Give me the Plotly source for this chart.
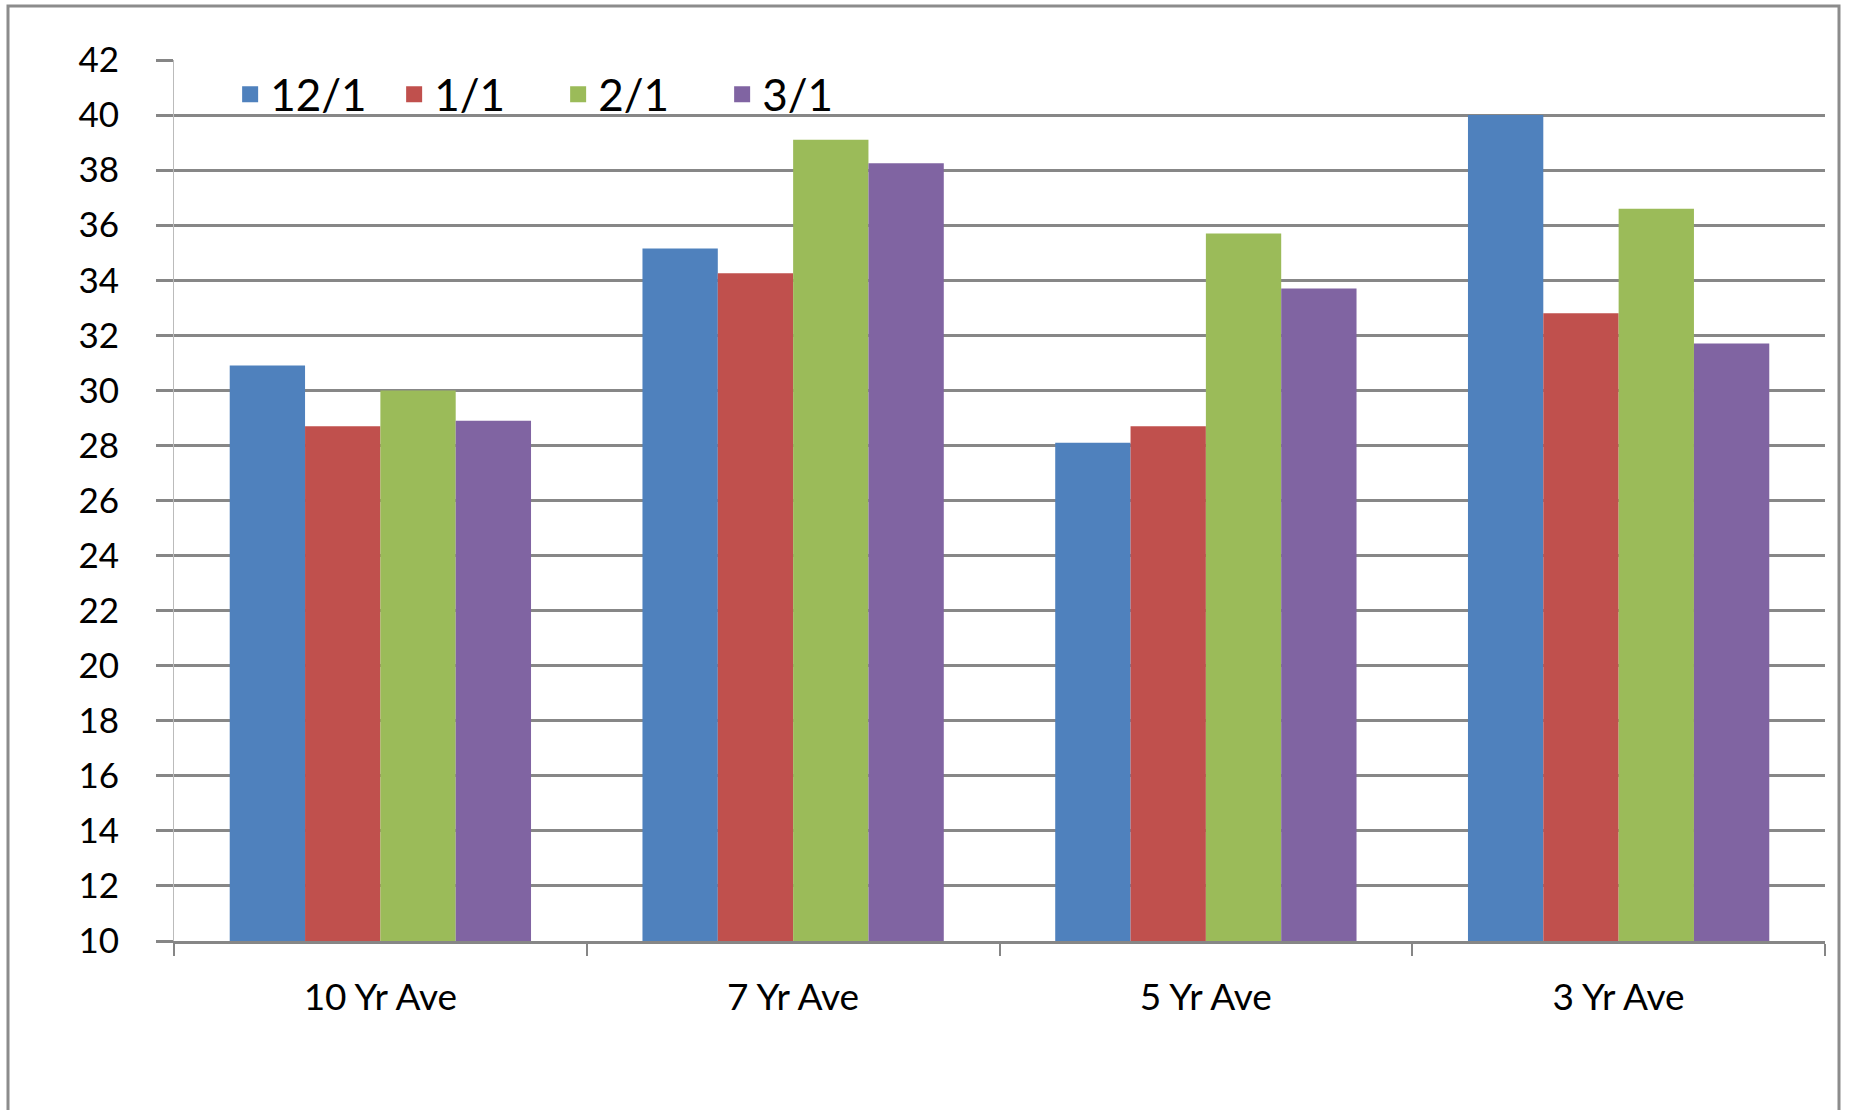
import plotly.graph_objects as go

categories = ["10 Yr Ave", "7 Yr Ave", "5 Yr Ave", "3 Yr Ave"]
series_names = ["12/1", "1/1", "2/1", "3/1"]
s_12_1 = [30.9, 35.15, 28.1, 40.0]
s_1_1 = [28.7, 34.25, 28.7, 32.8]
s_2_1 = [30.0, 39.1, 35.7, 36.6]
s_3_1 = [28.9, 38.25, 33.7, 31.7]
colors = ["#4F81BD", "#C0504D", "#9BBB59", "#8064A2"]
y_ticks = list(range(10, 43, 2))

fig = go.Figure()
for name, vals, col in zip(series_names, [s_12_1, s_1_1, s_2_1, s_3_1], colors):
    fig.add_trace(go.Bar(x=categories, y=vals, name=name, marker_color=col,
                         marker_line_width=0, legendgroup=name, showlegend=False))
# legend entries with larger square swatches
for name, col in zip(series_names, colors):
    fig.add_trace(go.Scatter(x=[None], y=[None], mode="markers", name=name,
                             legendgroup=name,
                             marker=dict(symbol="square", size=30, color=col)))

W, H = 1852, 1110
ml, mr, mt, mb = 174, 27, 60, 169
pw = W - ml - mr
ph = H - mt - mb

def px_x(x):
    return (x - ml) / pw

def px_y(y):
    return (H - mb - y) / ph

fig.update_layout(
    width=W, height=H,
    margin=dict(l=ml, r=mr, t=mt, b=mb),
    paper_bgcolor="white", plot_bgcolor="white",
    barmode="group", bargap=0.27, bargroupgap=0,
    font=dict(family="Lato, Carlito, Liberation Sans, sans-serif", color="#000000"),
    legend=dict(orientation="h", x=0.034, y=1.001, xanchor="left", yanchor="top",
                font=dict(size=44), bgcolor="rgba(0,0,0,0)", itemwidth=30,
                itemsizing="trace", entrywidth=119, entrywidthmode="pixels",
                traceorder="normal"),
    xaxis=dict(type="category", showgrid=False, ticks="outside", tickson="boundaries",
               ticklen=12, tickcolor="#868686", tickwidth=1.5,
               showline=True, linecolor="#868686", linewidth=2.5,
               tickfont=dict(size=37), ticklabelstandoff=22, zeroline=False),
    yaxis=dict(range=[10, 42], tickvals=y_ticks, ticks="outside", ticklen=17,
               tickcolor="#868686", tickwidth=2.5,
               showgrid=True, gridcolor="#878787", gridwidth=2.5,
               showline=True, linecolor="#BBBBBB", linewidth=1,
               tickfont=dict(size=35), ticklabelstandoff=30, zeroline=False),
    shapes=[dict(type="rect", xref="paper", yref="paper",
                 x0=px_x(8), x1=px_x(1839), y0=px_y(1125), y1=px_y(6),
                 line=dict(color="#8C8C8C", width=3), fillcolor="rgba(0,0,0,0)",
                 layer="below")],
)

fig.write_html("out.html", config={"displayModeBar": False},
               post_script="document.body.style.margin='0';")
